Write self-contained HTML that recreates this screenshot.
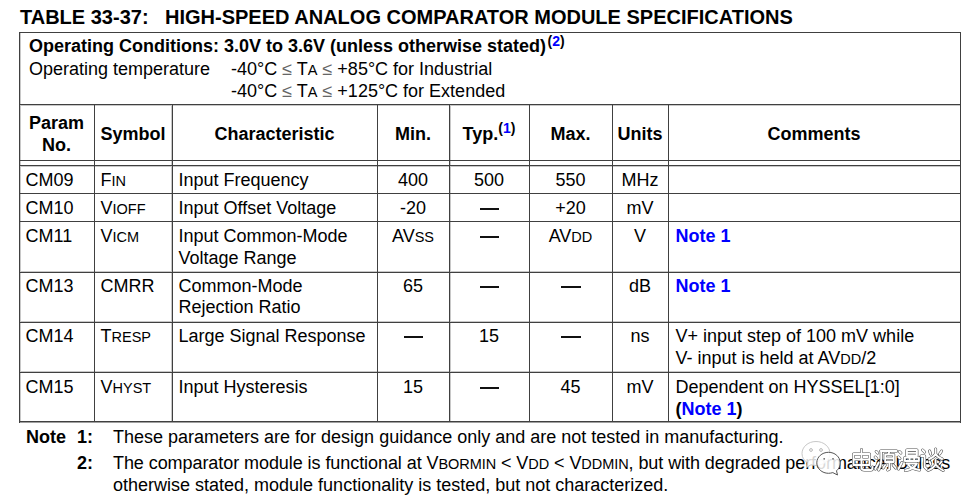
<!DOCTYPE html>
<html><head><meta charset="utf-8"><style>
html,body{margin:0;padding:0;background:#fff;}
body{width:975px;height:503px;position:relative;overflow:hidden;font-family:"Liberation Sans",sans-serif;color:#000;}
.l{position:absolute;}
.le{color:#666}
.t{position:absolute;line-height:0;white-space:nowrap;}
</style></head><body>
<div class="l" style="left:19px;top:105px;width:941px;height:1px;background:#c8c8c8"></div>
<div class="l" style="left:19px;top:271px;width:941px;height:1px;background:#c8c8c8"></div>
<div class="l" style="left:19px;top:321px;width:941px;height:1px;background:#c8c8c8"></div>
<div class="l" style="left:19px;top:371px;width:941px;height:1px;background:#c8c8c8"></div>
<div class="l" style="left:19px;top:166px;width:941px;height:1px;background:#c8c8c8"></div>
<div class="l" style="left:19px;top:422px;width:942px;height:1px;background:#a0a0a0"></div>
<div class="l" style="left:20px;top:33px;width:1px;height:389px;background:#c8c8c8"></div>
<div class="l" style="left:171px;top:105px;width:1px;height:316px;background:#c8c8c8"></div>
<div class="l" style="left:450px;top:105px;width:1px;height:316px;background:#c8c8c8"></div>
<div class="l" style="left:19px;top:32px;width:942px;height:1px;background:#404040"></div>
<div class="l" style="left:19px;top:32px;width:1px;height:391px;background:#404040"></div>
<div class="l" style="left:960px;top:32px;width:1px;height:391px;background:#404040"></div>
<div class="l" style="left:19px;top:421px;width:942px;height:1px;background:#404040"></div>
<div class="l" style="left:19px;top:104px;width:941px;height:1px;background:#404040"></div>
<div class="l" style="left:19px;top:160px;width:941px;height:1px;background:#404040"></div>
<div class="l" style="left:19px;top:165px;width:941px;height:1px;background:#404040"></div>
<div class="l" style="left:19px;top:193px;width:941px;height:1px;background:#404040"></div>
<div class="l" style="left:19px;top:221px;width:941px;height:1px;background:#404040"></div>
<div class="l" style="left:19px;top:272px;width:941px;height:1px;background:#404040"></div>
<div class="l" style="left:19px;top:322px;width:941px;height:1px;background:#404040"></div>
<div class="l" style="left:19px;top:372px;width:941px;height:1px;background:#404040"></div>
<div class="l" style="left:94px;top:104px;width:1px;height:317px;background:#404040"></div>
<div class="l" style="left:172px;top:104px;width:1px;height:317px;background:#404040"></div>
<div class="l" style="left:377px;top:104px;width:1px;height:317px;background:#404040"></div>
<div class="l" style="left:449px;top:104px;width:1px;height:317px;background:#404040"></div>
<div class="l" style="left:529px;top:104px;width:1px;height:317px;background:#404040"></div>
<div class="l" style="left:612px;top:104px;width:1px;height:317px;background:#404040"></div>
<div class="l" style="left:668px;top:104px;width:1px;height:317px;background:#404040"></div>
<div class="t" style="top:17.00px;font-size:20px;font-weight:bold;left:20px;">TABLE 33-37:</div>
<div class="t" style="top:17.00px;font-size:20px;font-weight:bold;left:165px;">HIGH-SPEED ANALOG COMPARATOR MODULE SPECIFICATIONS</div>
<div class="t" style="top:46.00px;font-size:18px;font-weight:bold;left:29px;">Operating Conditions: 3.0V to 3.6V (unless otherwise stated)<span style="font-size:14px;position:relative;top:-6px;font-weight:bold;margin-left:1.5px">(<span style="color:#0000ff">2</span>)</span></div>
<div class="t" style="top:69.00px;font-size:18px;left:29px;">Operating temperature</div>
<div class="t" style="top:69.00px;font-size:18px;left:231px;">-40°C <span class=le>≤</span> T<span style="font-size:14.5px">A</span> <span class=le>≤</span> +85°C for Industrial</div>
<div class="t" style="top:91.00px;font-size:18px;left:231px;">-40°C <span class=le>≤</span> T<span style="font-size:14.5px">A</span> <span class=le>≤</span> +125°C for Extended</div>
<div class="t" style="top:123.00px;font-size:18px;font-weight:bold;left:-243.5px;width:600px;text-align:center;">Param</div>
<div class="t" style="top:145.00px;font-size:18px;font-weight:bold;left:-243.5px;width:600px;text-align:center;">No.</div>
<div class="t" style="top:134.00px;font-size:18px;font-weight:bold;left:-167.0px;width:600px;text-align:center;">Symbol</div>
<div class="t" style="top:134.00px;font-size:18px;font-weight:bold;left:-25.5px;width:600px;text-align:center;">Characteristic</div>
<div class="t" style="top:134.00px;font-size:18px;font-weight:bold;left:113.0px;width:600px;text-align:center;">Min.</div>
<div class="t" style="top:134.00px;font-size:18px;font-weight:bold;left:189.0px;width:600px;text-align:center;">Typ.<span style="font-size:14px;position:relative;top:-7px;font-weight:bold;margin-left:0px">(<span style="color:#0000ff">1</span>)</span></div>
<div class="t" style="top:134.00px;font-size:18px;font-weight:bold;left:270.5px;width:600px;text-align:center;">Max.</div>
<div class="t" style="top:134.00px;font-size:18px;font-weight:bold;left:340.0px;width:600px;text-align:center;">Units</div>
<div class="t" style="top:134.00px;font-size:18px;font-weight:bold;left:514.0px;width:600px;text-align:center;">Comments</div>
<div class="t" style="top:180.00px;font-size:18px;left:25.5px;">CM09</div>
<div class="t" style="top:180.00px;font-size:18px;left:100.5px;">F<span style="font-size:14.5px">IN</span></div>
<div class="t" style="top:180.00px;font-size:18px;left:178.5px;">Input Frequency</div>
<div class="t" style="top:180.00px;font-size:18px;left:113.0px;width:600px;text-align:center;">400</div>
<div class="t" style="top:180.00px;font-size:18px;left:189.0px;width:600px;text-align:center;">500</div>
<div class="t" style="top:180.00px;font-size:18px;left:270.5px;width:600px;text-align:center;">550</div>
<div class="t" style="top:180.00px;font-size:18px;left:340.0px;width:600px;text-align:center;">MHz</div>
<div class="t" style="top:208.00px;font-size:18px;left:25.5px;">CM10</div>
<div class="t" style="top:208.00px;font-size:18px;left:100.5px;">V<span style="font-size:14.5px">IOFF</span></div>
<div class="t" style="top:208.00px;font-size:18px;left:178.5px;">Input Offset Voltage</div>
<div class="t" style="top:208.00px;font-size:18px;left:113.0px;width:600px;text-align:center;">-20</div>
<div class="t" style="top:208.00px;font-size:18px;left:189.7px;width:600px;text-align:center;"><span style="display:inline-block;width:19.5px;height:2px;background:#111;position:relative;top:-4px"></span></div>
<div class="t" style="top:208.00px;font-size:18px;left:270.5px;width:600px;text-align:center;">+20</div>
<div class="t" style="top:208.00px;font-size:18px;left:340.0px;width:600px;text-align:center;">mV</div>
<div class="t" style="top:236.00px;font-size:18px;left:25.5px;">CM11</div>
<div class="t" style="top:236.00px;font-size:18px;left:100.5px;">V<span style="font-size:14.5px">ICM</span></div>
<div class="t" style="top:236.00px;font-size:18px;left:178.5px;">Input Common-Mode</div>
<div class="t" style="top:258.00px;font-size:18px;left:178.5px;">Voltage Range</div>
<div class="t" style="top:236.00px;font-size:18px;left:113.0px;width:600px;text-align:center;">AV<span style="font-size:14.5px">SS</span></div>
<div class="t" style="top:236.00px;font-size:18px;left:189.7px;width:600px;text-align:center;"><span style="display:inline-block;width:19.5px;height:2px;background:#111;position:relative;top:-4px"></span></div>
<div class="t" style="top:236.00px;font-size:18px;left:270.5px;width:600px;text-align:center;">AV<span style="font-size:14.5px">DD</span></div>
<div class="t" style="top:236.00px;font-size:18px;left:340.0px;width:600px;text-align:center;">V</div>
<div class="t" style="top:236.00px;font-size:18px;left:675.5px;"><b style="color:#0000ff">Note 1</b></div>
<div class="t" style="top:286.00px;font-size:18px;left:25.5px;">CM13</div>
<div class="t" style="top:286.00px;font-size:18px;left:100.5px;">CMRR</div>
<div class="t" style="top:286.00px;font-size:18px;left:178.5px;">Common-Mode</div>
<div class="t" style="top:307.00px;font-size:18px;left:178.5px;">Rejection Ratio</div>
<div class="t" style="top:286.00px;font-size:18px;left:113.0px;width:600px;text-align:center;">65</div>
<div class="t" style="top:286.00px;font-size:18px;left:189.7px;width:600px;text-align:center;"><span style="display:inline-block;width:19.5px;height:2px;background:#111;position:relative;top:-4px"></span></div>
<div class="t" style="top:286.00px;font-size:18px;left:271.20000000000005px;width:600px;text-align:center;"><span style="display:inline-block;width:19.5px;height:2px;background:#111;position:relative;top:-4px"></span></div>
<div class="t" style="top:286.00px;font-size:18px;left:340.0px;width:600px;text-align:center;">dB</div>
<div class="t" style="top:286.00px;font-size:18px;left:675.5px;"><b style="color:#0000ff">Note 1</b></div>
<div class="t" style="top:336.00px;font-size:18px;left:25.5px;">CM14</div>
<div class="t" style="top:336.00px;font-size:18px;left:100.5px;">T<span style="font-size:14.5px">RESP</span></div>
<div class="t" style="top:336.00px;font-size:18px;left:178.5px;">Large Signal Response</div>
<div class="t" style="top:336.00px;font-size:18px;left:113.69999999999999px;width:600px;text-align:center;"><span style="display:inline-block;width:19.5px;height:2px;background:#111;position:relative;top:-4px"></span></div>
<div class="t" style="top:336.00px;font-size:18px;left:189.0px;width:600px;text-align:center;">15</div>
<div class="t" style="top:336.00px;font-size:18px;left:271.20000000000005px;width:600px;text-align:center;"><span style="display:inline-block;width:19.5px;height:2px;background:#111;position:relative;top:-4px"></span></div>
<div class="t" style="top:336.00px;font-size:18px;left:340.0px;width:600px;text-align:center;">ns</div>
<div class="t" style="top:336.00px;font-size:18px;left:675.5px;">V+ input step of 100 mV while</div>
<div class="t" style="top:358.00px;font-size:18px;left:675.5px;">V- input is held at AV<span style="font-size:14.5px">DD</span>/2</div>
<div class="t" style="top:387.00px;font-size:18px;left:25.5px;">CM15</div>
<div class="t" style="top:387.00px;font-size:18px;left:100.5px;">V<span style="font-size:14.5px">HYST</span></div>
<div class="t" style="top:387.00px;font-size:18px;left:178.5px;">Input Hysteresis</div>
<div class="t" style="top:387.00px;font-size:18px;left:113.0px;width:600px;text-align:center;">15</div>
<div class="t" style="top:387.00px;font-size:18px;left:189.7px;width:600px;text-align:center;"><span style="display:inline-block;width:19.5px;height:2px;background:#111;position:relative;top:-4px"></span></div>
<div class="t" style="top:387.00px;font-size:18px;left:270.5px;width:600px;text-align:center;">45</div>
<div class="t" style="top:387.00px;font-size:18px;left:340.0px;width:600px;text-align:center;">mV</div>
<div class="t" style="top:387.00px;font-size:18px;left:675.5px;">Dependent on HYSSEL[1:0]</div>
<div class="t" style="top:409.00px;font-size:18px;left:675.5px;"><b>(<span style="color:#0000ff">Note 1</span>)</b></div>
<div class="t" style="top:437.00px;font-size:18px;font-weight:bold;left:26px;">Note</div>
<div class="t" style="top:437.00px;font-size:18px;font-weight:bold;left:77px;">1:</div>
<div class="t" style="top:437.00px;font-size:18px;left:113px;">These parameters are for design guidance only and are not tested in manufacturing.</div>
<div class="t" style="top:463.00px;font-size:18px;font-weight:bold;left:77px;">2:</div>
<div class="t" style="top:463.00px;font-size:18px;left:113px;letter-spacing:-0.068px;">The comparator module is functional at V<span style="font-size:14.5px">BORMIN</span> &lt; V<span style="font-size:14.5px">DD</span> &lt; V<span style="font-size:14.5px">DDMIN</span>, but with degraded performance. Unless</div>
<div class="t" style="top:485.00px;font-size:18px;left:113px;">otherwise stated, module functionality is tested, but not characterized.</div>
<svg width="975" height="503" style="position:absolute;left:0;top:0"><path d="M816 441.5 C 808 441.5 802 447 802 453.5 C 802 457.5 804 460.5 807.5 462.8 L 806.5 467.5 L 811 464.8 C 812.5 465.2 814 465.4 816 465.4 C 824 465.4 830 460 830 453.5 C 830 447 824 441.5 816 441.5 Z" fill="#fff" fill-opacity="0.82" stroke="#c8c8c8" stroke-width="1"/><circle cx="811" cy="450" r="1.4" fill="none" stroke="#b0b0b0" stroke-width="0.9"/><circle cx="821" cy="450" r="1.4" fill="none" stroke="#b0b0b0" stroke-width="0.9"/><path d="M828.5 452.3 C 822 452.3 816.8 457 816.8 462.8 C 816.8 468.6 822 473.3 828.5 473.3 C 830 473.3 831.5 473 832.8 472.6 L 837.5 475 L 836.5 470.8 C 839 468.8 840.2 466 840.2 462.8 C 840.2 457 835 452.3 828.5 452.3 Z" fill="#fff" fill-opacity="0.85" stroke="#555" stroke-width="1"/><circle cx="824.2" cy="458.8" r="0.9" fill="#666"/><circle cx="833" cy="458.8" r="0.9" fill="#666"/><g transform="translate(850.5,448) scale(1.0)"><path d="M3 6 H19 V17 H3 Z M3 11.5 H19 M11 1.5 V19.5 Q11 22 14 22 H20.5 Q22 22 22 19" fill="none" stroke="#4a4a4a" stroke-width="3.0" stroke-linecap="round" stroke-linejoin="round"/><path d="M3 6 H19 V17 H3 Z M3 11.5 H19 M11 1.5 V19.5 Q11 22 14 22 H20.5 Q22 22 22 19" fill="none" stroke="#fff" stroke-width="1.9" stroke-linecap="round" stroke-linejoin="round"/></g><g transform="translate(873.7,448) scale(1.0)"><path d="M2.5 3.5 L4 5 M1.5 9 L3 10.5 M1.5 21 L5 14.5 M7 3 H23 M7.5 3 V12 Q7.5 18 5 22 M11.5 6.5 H20 V14 H11.5 Z M11.5 10.2 H20 M15.5 4 L14.5 6.5 M15.7 14 V21 L14 22 M11.5 17 L9.5 20 M19.5 17 L22 20" fill="none" stroke="#4a4a4a" stroke-width="3.0" stroke-linecap="round" stroke-linejoin="round"/><path d="M2.5 3.5 L4 5 M1.5 9 L3 10.5 M1.5 21 L5 14.5 M7 3 H23 M7.5 3 V12 Q7.5 18 5 22 M11.5 6.5 H20 V14 H11.5 Z M11.5 10.2 H20 M15.5 4 L14.5 6.5 M15.7 14 V21 L14 22 M11.5 17 L9.5 20 M19.5 17 L22 20" fill="none" stroke="#fff" stroke-width="1.9" stroke-linecap="round" stroke-linejoin="round"/></g><g transform="translate(896.9,448) scale(1.0)"><path d="M2.5 3.5 L4 5 M1.5 9 L3 10.5 M1.5 21 L5 14.5 M10 2 H20 V7.5 H10 Z M10 4.8 H20 M8 9.5 H22 V13 H8 Z M12.7 9.5 V13 M17.3 9.5 V13 M9.5 15.5 H20 Q17 21 8.5 22.5 M11.5 17 Q15 21 22.5 22" fill="none" stroke="#4a4a4a" stroke-width="3.0" stroke-linecap="round" stroke-linejoin="round"/><path d="M2.5 3.5 L4 5 M1.5 9 L3 10.5 M1.5 21 L5 14.5 M10 2 H20 V7.5 H10 Z M10 4.8 H20 M8 9.5 H22 V13 H8 Z M12.7 9.5 V13 M17.3 9.5 V13 M9.5 15.5 H20 Q17 21 8.5 22.5 M11.5 17 Q15 21 22.5 22" fill="none" stroke="#fff" stroke-width="1.9" stroke-linecap="round" stroke-linejoin="round"/></g><g transform="translate(920.1,448) scale(1.0)"><path d="M2.5 2 L4.5 4 M1 8 H4.5 V19 L6.5 21 M9.5 3 L10.5 6 M21.5 3 L19.5 6 M15.5 1 V6 Q14 9 9 11 M15.5 6 Q17 9 22 11 M9.5 13.5 L10.5 16 M21.5 13.5 L19.5 16 M15.5 12 V16.5 Q13.5 20 8 22.5 M15.5 16.5 Q18 20 23 22.5" fill="none" stroke="#4a4a4a" stroke-width="3.0" stroke-linecap="round" stroke-linejoin="round"/><path d="M2.5 2 L4.5 4 M1 8 H4.5 V19 L6.5 21 M9.5 3 L10.5 6 M21.5 3 L19.5 6 M15.5 1 V6 Q14 9 9 11 M15.5 6 Q17 9 22 11 M9.5 13.5 L10.5 16 M21.5 13.5 L19.5 16 M15.5 12 V16.5 Q13.5 20 8 22.5 M15.5 16.5 Q18 20 23 22.5" fill="none" stroke="#fff" stroke-width="1.9" stroke-linecap="round" stroke-linejoin="round"/></g></svg>
</body></html>
